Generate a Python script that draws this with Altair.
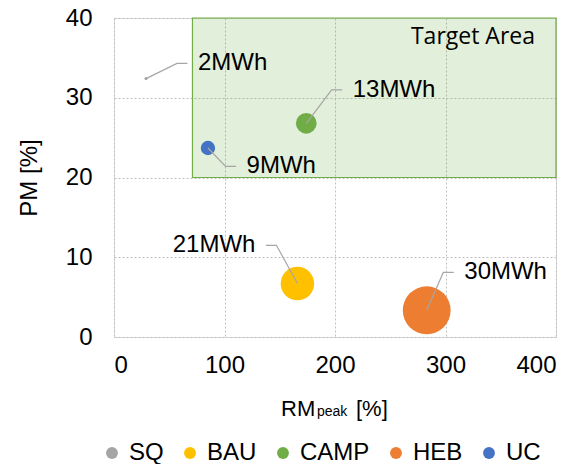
import altair as alt
import pandas as pd

# ---- data ----
scenarios = ["SQ", "BAU", "CAMP", "HEB", "UC"]
rm_peak = [29, 166, 174, 283, 85]          # RMpeak [%]
pm = [32.4, 6.7, 26.8, 3.35, 23.7]          # PM [%]
storage_mwh = [2, 21, 13, 30, 9]            # bubble value (MWh)
labels = ["2MWh", "21MWh", "13MWh", "30MWh", "9MWh"]
label_x = [76, 128, 216, 317, 120]          # label anchor (data units)
label_y = [34.3, 11.5, 31.0, 8.1, 21.4]
label_side = ["right", "left", "right", "right", "right"]
colors = ["#a5a5a5", "#ffc000", "#70ad47", "#ed7d31", "#4472c4"]

target_x = [71, 400]
target_y = [20, 40]
target_label = "Target Area"
target_label_pos = [381, 37.6]

x_ticks = [0, 100, 200, 300, 400]
y_ticks = [0, 10, 20, 30, 40]

FONT = "Liberation Sans"

df = pd.DataFrame({
    "scenario": scenarios, "rm": rm_peak, "pm": pm, "mwh": storage_mwh,
    "label": labels, "lx": label_x, "ly": label_y, "side": label_side,
})

# leader lines: point -> elbow -> end (near the label)
rows = []
gap, run = 9.5, 9.5
for r in df.itertuples():
    if r.side == "right":
        end = r.lx - gap
        elbow = end - run
    else:
        end = r.lx + gap
        elbow = end + run
    rows += [
        {"id": r.scenario, "o": 0, "x": r.rm, "y": r.pm},
        {"id": r.scenario, "o": 1, "x": elbow, "y": r.ly},
        {"id": r.scenario, "o": 2, "x": end, "y": r.ly},
    ]
leaders = pd.DataFrame(rows)

xs = alt.Scale(domain=[0, 400], nice=False, zero=False)
ys = alt.Scale(domain=[0, 40], nice=False, zero=False)

xaxis = alt.Axis(values=x_ticks, title=None, labelFontSize=24, labelFont=FONT,
                 labelColor="#000", labelPadding=16, ticks=False, domain=False,
                 grid=True, gridColor="#bfbfbf", gridDash=[2, 2], gridWidth=1)
yaxis = alt.Axis(values=y_ticks, title="PM [%]", labelFontSize=24, labelFont=FONT,
                 labelColor="#000", labelPadding=22, ticks=False, domain=False,
                 titleFont=FONT, titleFontSize=24, titleFontWeight="normal",
                 titleColor="#000", titlePadding=24,
                 grid=True, gridColor="#bfbfbf", gridDash=[2, 2], gridWidth=1)

tdf = pd.DataFrame({"x": [target_x[0]], "x2": [target_x[1]],
                    "y": [target_y[0]], "y2": [target_y[1]]})
target = alt.Chart(tdf).mark_rect(
    fill="#70ad47", fillOpacity=0.2, stroke="#70ad47", strokeWidth=1.2
).encode(
    x=alt.X("x:Q", scale=xs, axis=xaxis), x2="x2:Q",
    y=alt.Y("y:Q", scale=ys, axis=yaxis), y2="y2:Q",
)

target_text = alt.Chart(pd.DataFrame({
    "x": [target_label_pos[0]], "y": [target_label_pos[1]], "t": [target_label]
})).mark_text(align="right", baseline="middle", font="Open Sans",
              fontSize=23, color="#000").encode(
    x=alt.X("x:Q", scale=xs), y=alt.Y("y:Q", scale=ys), text="t:N")

bubbles = alt.Chart(df).mark_circle(opacity=1).encode(
    x=alt.X("rm:Q", scale=xs),
    y=alt.Y("pm:Q", scale=ys),
    size=alt.Size("mwh:Q", scale=alt.Scale(type="pow", exponent=2,
                                           domain=[0, 30], range=[0, 2290]),
                  legend=None),
    color=alt.Color("scenario:N",
                    scale=alt.Scale(domain=scenarios, range=colors),
                    legend=alt.Legend(
                        title=None, orient="none", direction="horizontal",
                        legendX=-14, legendY=423,
                        labelFont=FONT, labelFontSize=24, labelColor="#000",
                        symbolType="circle", symbolSize=140,
                        symbolStrokeWidth=0, labelOffset=5,
                        columnPadding=14, padding=0)),
)

leader_lines = alt.Chart(leaders).mark_line(
    color="#a6a6a6", strokeWidth=1.2
).encode(
    x=alt.X("x:Q", scale=xs), y=alt.Y("y:Q", scale=ys),
    detail="id:N", order="o:O",
)

label_left = alt.Chart(df).transform_filter(
    alt.datum.side == "right").mark_text(
    align="left", baseline="middle", font=FONT, fontSize=24, color="#000"
).encode(x=alt.X("lx:Q", scale=xs), y=alt.Y("ly:Q", scale=ys), text="label:N")

label_right = alt.Chart(df).transform_filter(
    alt.datum.side == "left").mark_text(
    align="right", baseline="middle", font=FONT, fontSize=24, color="#000"
).encode(x=alt.X("lx:Q", scale=xs), y=alt.Y("ly:Q", scale=ys), text="label:N")

# x-axis title with subscript: RM_peak [%]
one = pd.DataFrame({"a": [0]})
t_rm = alt.Chart(one).mark_text(text="RM", align="left", baseline="alphabetic",
                                font=FONT, fontSize=22, color="#000").encode(
    x=alt.value(167), y=alt.value(398))
t_peak = alt.Chart(one).mark_text(text="peak", align="left", baseline="alphabetic",
                                  font=FONT, fontSize=14, color="#000").encode(
    x=alt.value(203), y=alt.value(398))
t_pct = alt.Chart(one).mark_text(text="[%]", align="left", baseline="alphabetic",
                                 font=FONT, fontSize=22, color="#000").encode(
    x=alt.value(242), y=alt.value(398))

chart = alt.layer(
    target, target_text, bubbles, leader_lines, label_left, label_right,
    t_rm, t_peak, t_pct
).properties(
    width=442, height=319,
    autosize=alt.AutoSizeParams(type="none"),
    padding={"left": 106, "top": 10, "right": 15, "bottom": 127},
).configure_view(
    stroke="#1a1a1a", strokeWidth=2
).configure(background="white")

chart.save("out.html", embed_options={"renderer": "svg", "actions": False})
